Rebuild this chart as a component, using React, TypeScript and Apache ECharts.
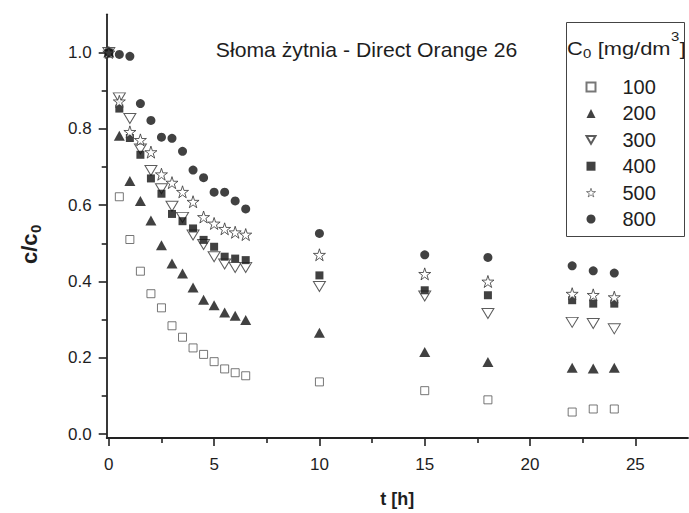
import React, { useEffect, useRef } from "react";
import * as echarts from "echarts";

const FONT = "'Liberation Sans', Arial, Helvetica, sans-serif";
const TXT = "#1e1e1e";
const AX = "#222";

const times = [0, 0.5, 1, 1.5, 2, 2.5, 3, 3.5, 4, 4.5, 5, 5.5, 6, 6.5, 10, 15, 18, 22, 23, 24];
const c100 = [1.0, 0.622, 0.51, 0.427, 0.368, 0.331, 0.284, 0.254, 0.226, 0.209, 0.19, 0.171, 0.161, 0.153, 0.137, 0.114, 0.09, 0.058, 0.066, 0.066];
const c200 = [1.0, 0.782, 0.663, 0.611, 0.56, 0.495, 0.447, 0.421, 0.384, 0.352, 0.338, 0.319, 0.31, 0.299, 0.266, 0.215, 0.189, 0.174, 0.172, 0.174];
const c300 = [1.0, 0.881, 0.827, 0.747, 0.691, 0.643, 0.597, 0.568, 0.522, 0.497, 0.465, 0.446, 0.437, 0.437, 0.387, 0.362, 0.316, 0.293, 0.29, 0.276];
const c400 = [1.0, 0.853, 0.776, 0.732, 0.67, 0.63, 0.577, 0.558, 0.539, 0.509, 0.491, 0.465, 0.46, 0.456, 0.416, 0.377, 0.364, 0.351, 0.342, 0.342];
const c500 = [1.0, 0.872, 0.792, 0.771, 0.739, 0.681, 0.659, 0.635, 0.609, 0.569, 0.552, 0.538, 0.529, 0.523, 0.47, 0.42, 0.4, 0.368, 0.365, 0.359];
const c800 = [1.0, 0.995, 0.99, 0.866, 0.822, 0.778, 0.775, 0.741, 0.692, 0.672, 0.634, 0.634, 0.611, 0.59, 0.526, 0.47, 0.463, 0.441, 0.428, 0.422];

const seriesNames = ["100", "200", "300", "400", "500", "800"];
const seriesValues = [c100, c200, c300, c400, c500, c800];

const xMajorTicks = [0, 5, 10, 15, 20, 25];
const xMinorTicks = [2.5, 7.5, 12.5, 17.5, 22.5];
const yMajorTicks = [0, 0.2, 0.4, 0.6, 0.8, 1.0];
const yMinorTicks = [0.1, 0.3, 0.5, 0.7, 0.9];

const titleText = "Słoma żytnia - Direct Orange 26";
const xName = "t [h]";

const STAR =
  "path://M6,0.2 L7.35,4.4 L11.7,4.4 L8.2,6.95 L9.55,11.1 L6,8.55 L2.45,11.1 L3.8,6.95 L0.3,4.4 L4.65,4.4 Z";
const TRI_DOWN = "path://M0,0 L12,0 L6,10.4 Z";

const styles: any[] = [
  { symbol: "rect", symbolSize: 8, itemStyle: { color: "#fff", borderColor: "#555", borderWidth: 1 } },
  { symbol: "triangle", symbolSize: [11, 10], itemStyle: { color: "#111" } },
  { symbol: TRI_DOWN, symbolSize: [12, 10], itemStyle: { color: "#fff", borderColor: "#333", borderWidth: 1 } },
  { symbol: "rect", symbolSize: 8, itemStyle: { color: "#111" } },
  { symbol: STAR, symbolSize: 12, itemStyle: { color: "#fff", borderColor: "#333", borderWidth: 1 } },
  { symbol: "circle", symbolSize: 9, itemStyle: { color: "#111" } },
];

export default function App() {
  const ref = useRef<HTMLDivElement>(null);
  useEffect(() => {
    if (!ref.current) return;
    const chart = echarts.init(ref.current, undefined, { renderer: "svg" });
    const series = seriesNames.map((name, i) => ({
      name,
      type: "scatter",
      data: times.map((t, j) => [t, seriesValues[i][j]]),
      ...styles[i],
      emphasis: { disabled: true },
    }));
    const tickLine = { color: AX, width: 1.6 };
    const legendData = seriesNames.map((name) =>
      name === "500" ? { name, itemStyle: { borderWidth: 0.7, borderColor: "#222", color: "#fff" } } : { name }
    );
    const option: any = {
      animation: false,
      backgroundColor: "#fff",
      grid: { left: 106.7, right: 1, top: 14.3, bottom: 70.3 },
      xAxis: [
        {
          type: "value",
          min: -0.1,
          max: 27.5,
          name: xName,
          nameLocation: "middle",
          nameGap: 52,
          nameTextStyle: { fontSize: 18, fontWeight: "bold", color: TXT, fontFamily: FONT },
          axisLine: { show: true, onZero: false, lineStyle: { color: AX, width: 1.8 } },
          axisTick: { show: true, length: 8, customValues: xMajorTicks, lineStyle: tickLine },
          axisLabel: {
            show: true,
            customValues: xMajorTicks,
            formatter: (v: number) => String(v),
            fontSize: 17,
            color: TXT,
            fontFamily: FONT,
            margin: 18,
          },
          splitLine: { show: false },
        },
        {
          type: "value",
          min: -0.1,
          max: 27.5,
          position: "bottom",
          axisLine: { show: false, onZero: false },
          axisTick: { show: true, length: 5, customValues: xMinorTicks, lineStyle: tickLine },
          axisLabel: { show: false },
          splitLine: { show: false },
        },
      ],
      yAxis: [
        {
          type: "value",
          min: -0.01,
          max: 1.1,
          axisLine: { show: true, onZero: false, lineStyle: { color: AX, width: 1.8 } },
          axisTick: { show: true, length: 8, customValues: yMajorTicks, lineStyle: tickLine },
          axisLabel: {
            show: true,
            customValues: yMajorTicks,
            formatter: (v: number) => v.toFixed(1),
            fontSize: 17,
            color: TXT,
            fontFamily: FONT,
            margin: 15,
          },
          splitLine: { show: false },
        },
        {
          type: "value",
          min: -0.01,
          max: 1.1,
          position: "left",
          axisLine: { show: false, onZero: false },
          axisTick: { show: true, length: 5, customValues: yMinorTicks, lineStyle: tickLine },
          axisLabel: { show: false },
          splitLine: { show: false },
        },
      ],
      legend: {
        orient: "vertical",
        left: 585.5,
        top: 77,
        padding: 0,
        itemWidth: 9,
        itemHeight: 9,
        itemGap: 6.4,
        selectedMode: false,
        data: legendData,
        textStyle: { fontSize: 20, color: TXT, fontFamily: FONT, padding: [0, 0, 0, 22] },
      },
      graphic: [
        {
          type: "rect",
          shape: { x: 566.5, y: 22.5, width: 118, height: 214 },
          style: { fill: "none", stroke: "#444", lineWidth: 1 },
          z: 10,
        },
        {
          type: "text",
          x: 366.5,
          y: 50,
          scaleX: 1.06,
          style: { text: titleText, fontSize: 20, fontFamily: FONT, fill: TXT, align: "center", verticalAlign: "middle" },
        },
        {
          type: "group",
          x: 567,
          y: 48,
          scaleX: 1.15,
          children: [
            { type: "text", x: 0, y: 0, style: { text: "C", fontSize: 19, fontFamily: FONT, fill: TXT, align: "left", verticalAlign: "middle" } },
            { type: "text", x: 14, y: 5, style: { text: "0", fontSize: 13, fontFamily: FONT, fill: TXT, align: "left", verticalAlign: "middle" } },
            { type: "text", x: 21.4, y: 0, style: { text: " [mg/dm", fontSize: 19, fontFamily: FONT, fill: TXT, align: "left", verticalAlign: "middle" } },
            { type: "text", x: 90.4, y: -12, style: { text: "3", fontSize: 13, fontFamily: FONT, fill: TXT, align: "left", verticalAlign: "middle" } },
            { type: "text", x: 98, y: 0, style: { text: "]", fontSize: 19, fontFamily: FONT, fill: TXT, align: "left", verticalAlign: "middle" } },
          ],
        },
        {
          type: "group",
          x: 29,
          y: 264,
          rotation: Math.PI / 2,
          children: [
            { type: "text", x: 0, y: 0, style: { text: "c/c", fontSize: 22, fontWeight: "bold", fontFamily: FONT, fill: TXT, align: "left", verticalAlign: "middle" } },
            { type: "text", x: 31, y: 6, style: { text: "0", fontSize: 15, fontWeight: "bold", fontFamily: FONT, fill: TXT, align: "left", verticalAlign: "middle" } },
          ],
        },
      ],
      series,
    };
    chart.setOption(option);
    return () => chart.dispose();
  }, []);
  return (
    <div
      ref={ref}
      style={{ position: "fixed", left: 0, top: 0, width: 689, height: 513, background: "#fff" }}
    />
  );
}
